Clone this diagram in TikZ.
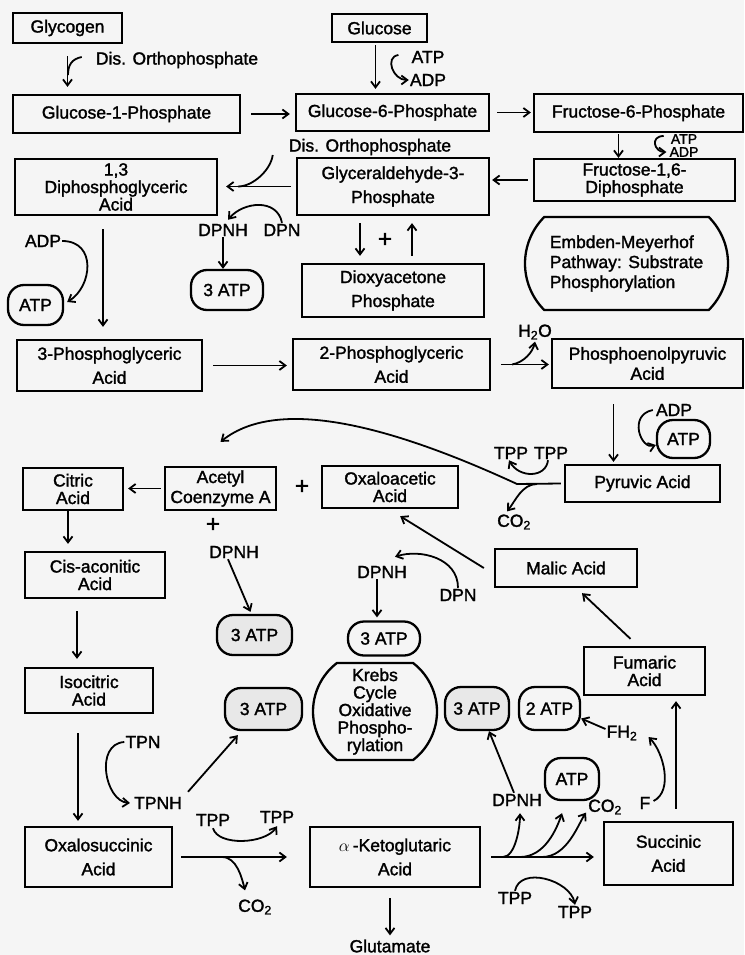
\documentclass[tikz,border=0pt]{standalone}
\usepackage{fontspec}
\setmainfont[FakeBold=1.6]{Liberation Sans}
\usetikzlibrary{shapes.misc, arrows.meta, calc}
\tikzstyle{box} = [draw, line width=2.3pt, inner sep=0pt, align=center]
\tikzstyle{pill} = [draw, line width=2.3pt, rounded corners=16pt, inner sep=0pt, align=center]
\tikzstyle{oval} = [rounded rectangle, draw, line width=2.3pt, inner sep=0pt]
\tikzstyle{stip} = [fill=black!9]
\tikzstyle{lbl} = [inner sep=1pt]
\tikzstyle{small} = [inner sep=1pt, font=\fontsize{14}{14}\selectfont]
\tikzstyle{plus} = [inner sep=1pt, font=\fontsize{24}{24}\selectfont]
\tikzstyle{arrow} = [line width=1.8pt,->,>={Straight Barb[length=6pt,width=9pt]}]
\tikzstyle{line} = [line width=1.8pt]
\tikzstyle{tight} = [font=\fontsize{17.5}{17.5}\selectfont]
\tikzstyle{loose} = [font=\fontsize{17.5}{24}\selectfont]

\begin{document}
\begin{tikzpicture}[x=1pt, y=-1pt, font=\fontsize{17.5}{20}\selectfont]

        \fill[black!4] (0,0) rectangle (744,955);
        \useasboundingbox (0,0) rectangle (744,955);

        % Embden-Meyerhof
        \node at (67.5,28) [box, minimum width=109pt, minimum height=30pt](glycogen) {Glycogen};
        \node at (379.5,28) [box, minimum width=95pt, minimum height=28pt](glucose) {Glucose};
        \node at (126.5,114) [box, minimum width=227pt, minimum height=38pt](gone) {Glucose-1-Phosphate};
        \node at (392.5,112.5) [box, minimum width=193pt, minimum height=37pt](gsix) {Glucose-6-Phosphate};
        \node at (638.5,113) [box, minimum width=209pt, minimum height=38pt](fsix) {Fructose-6-Phosphate};
        \node at (634.5,180) [box, tight, minimum width=201pt, minimum height=42pt](fdi) {Fructose-1,6-\\Diphosphate};
        \node at (393,186.5) [box, loose, minimum width=192pt, minimum height=57pt](gap) {Glyceraldehyde-3-\\Phosphate};
        \node at (116,187) [box, tight, minimum width=202pt, minimum height=56pt](dpg) {1,3\\Diphosphoglyceric\\Acid};
        \node at (393,290.5) [box, loose, minimum width=182pt, minimum height=53pt](dhap) {Dioxyacetone\\Phosphate};
        \node at (626.5,263.5) [oval, rounded rectangle arc length=90, align=left, minimum width=203pt, minimum height=93pt](emp) {Embden-Meyerhof\\Pathway: Substrate\\Phosphorylation};
        \node at (35.5,305) [pill, minimum width=55pt, minimum height=40pt](atpa) {ATP};
        \node at (227,290) [pill, minimum width=72pt, minimum height=40pt](atpb) {3 ATP};
        \node at (109.5,365.5) [box, loose, minimum width=185pt, minimum height=51pt](pgathree) {3-Phosphoglyceric\\Acid};
        \node at (391.5,364.5) [box, loose, minimum width=197pt, minimum height=51pt](pgatwo) {2-Phosphoglyceric\\Acid};
        \node at (647.5,363.5) [box, minimum width=191pt, minimum height=49pt](pep) {Phosphoenolpyruvic\\Acid};
        \node at (683.5,439) [pill, minimum width=53pt, minimum height=38pt](atpc) {ATP};
        \node at (642.5,483.5) [box, minimum width=155pt, minimum height=37pt](pyr) {Pyruvic Acid};

        % Krebs cycle
        \node at (73,489) [box, tight, minimum width=100pt, minimum height=42pt](citric) {Citric\\Acid};
        \node at (220.5,488.5) [box, minimum width=111pt, minimum height=43pt](acetyl) {Acetyl\\Coenzyme A};
        \node at (390,487) [box, tight, minimum width=136pt, minimum height=42pt](oaa) {Oxaloacetic\\Acid};
        \node at (95,575) [box, tight, minimum width=140pt, minimum height=46pt](cis) {Cis-aconitic\\Acid};
        \node at (566,568) [box, minimum width=142pt, minimum height=38pt](malic) {Malic Acid};
        \node at (254.5,635) [pill, stip, minimum width=75pt, minimum height=40pt](atpd) {3 ATP};
        \node at (384,638.5) [pill, minimum width=72pt, minimum height=34pt](atpe) {3 ATP};
        \node at (644.5,671) [box, tight, minimum width=121pt, minimum height=48pt](fum) {Fumaric\\Acid};
        \node at (89,690.5) [box, tight, minimum width=128pt, minimum height=45pt](iso) {Isocitric\\Acid};
        \node at (375,711.5) [oval, tight, rounded rectangle arc length=105, align=center, minimum width=124pt, minimum height=97pt](krebs) {Krebs\\Cycle\\Oxidative\\Phospho-\\rylation};
        \node at (263.5,709) [pill, stip, minimum width=77pt, minimum height=42pt](atpf) {3 ATP};
        \node at (477,708.5) [pill, stip, minimum width=64pt, minimum height=43pt](atpg) {3 ATP};
        \node at (549.5,708.5) [pill, minimum width=61pt, minimum height=43pt](atph) {2 ATP};
        \node at (572,779) [pill, minimum width=54pt, minimum height=42pt](atpi) {ATP};
        \node at (98.5,857) [box, loose, minimum width=147pt, minimum height=60pt](oxs) {Oxalosuccinic\\Acid};
        \node at (395,857) [box, loose, minimum width=170pt, minimum height=60pt](akg) {$\alpha$\,-Ketoglutaric\\Acid};
        \node at (668.5,853.5) [box, loose, minimum width=129pt, minimum height=63pt](succ) {Succinic\\Acid};

        % labels
        \node at (177,60) [lbl](disa) {Dis. Orthophosphate};
        \node at (428,57) [lbl](atpl) {ATP};
        \node at (428,80) [lbl](adpl) {ADP};
        \node at (684,139) [small](atpm) {ATP};
        \node at (684,152) [small](adpm) {ADP};
        \node at (370,147) [lbl](disb) {Dis. Orthophosphate};
        \node at (223,230) [lbl](dpnha) {DPNH};
        \node at (282,230) [lbl](dpna) {DPN};
        \node at (385,240) [plus](plusa) {+};
        \node at (43,241) [lbl](adpa) {ADP};
        \node at (535,332) [lbl](water) {H\textsubscript{2}O};
        \node at (674,410) [lbl](adpb) {ADP};
        \node at (511,453) [lbl](tppa) {TPP};
        \node at (551,453) [lbl](tppb) {TPP};
        \node at (514,522) [lbl](coa) {CO\textsubscript{2}};
        \node at (302,487) [plus](plusb) {+};
        \node at (213,525) [plus](plusc) {+};
        \node at (234,552) [lbl](dpnhb) {DPNH};
        \node at (382,572) [lbl](dpnhc) {DPNH};
        \node at (458,595) [lbl](dpnb) {DPN};
        \node at (143,742) [lbl](tpn) {TPN};
        \node at (158,803) [lbl](tpnh) {TPNH};
        \node at (622,733) [lbl](fhtwo) {FH\textsubscript{2}};
        \node at (645,803) [lbl](fone) {F};
        \node at (517,800) [lbl](dpnhd) {DPNH};
        \node at (605,807) [lbl](cob) {CO\textsubscript{2}};
        \node at (213,820) [lbl](tppc) {TPP};
        \node at (277,817) [lbl](tppd) {TPP};
        \node at (255,907) [lbl](coc) {CO\textsubscript{2}};
        \node at (515,898) [lbl](tppe) {TPP};
        \node at (575,912) [lbl](tppf) {TPP};
        \node at (390,946) [lbl](glut) {Glutamate};

        % branch points
        \coordinate (jg) at (68,75);
        \coordinate (jgap) at (238,186.5);
        \coordinate (jw) at (512,364.5);
        \coordinate (jp) at (517,484);
        \coordinate (jc) at (537,484);
        \coordinate (jo) at (222,857);
        \coordinate (jka) at (503,857);
        \coordinate (jkb) at (520,857);
        \coordinate (jkc) at (542,857);

        % glycolysis arrows
        \draw[arrow] ([yshift=-12pt]glycogen.south) -- ([yshift=7pt]glycogen.south |- gone.north);
        \draw[line] ([xshift=-13pt,yshift=3pt]disa.west) .. controls +(-10,2) and +(0,-10) .. (jg);
        \draw[arrow] ([xshift=-4pt,yshift=-2pt]glucose.south) -- ([xshift=-4pt,yshift=4pt]glucose.south |- gsix.north);
        \draw[arrow] ([xshift=-12pt,yshift=2pt]atpl.west) .. controls +(-14,2) and +(-16,0) .. (adpl.west);
        \draw[arrow] ([xshift=10pt]gone.east) -- ([xshift=-5pt]gsix.west |- gone.east);
        \draw[arrow] ([xshift=7pt]gsix.east) -- ([xshift=-2pt]fsix.west |- gsix.east);
        \draw[arrow] ([xshift=-20pt,yshift=-1pt]fsix.south) -- ([xshift=-20pt]fsix.south |- fdi.north);
        \draw[arrow] ([xshift=-6pt,yshift=3pt]atpm.west) .. controls +(-14,0) and +(-12,0) .. ([xshift=-2pt]adpm.west);
        \draw[arrow] ([xshift=-5pt]fdi.west) -- ([xshift=2pt]gap.east |- fdi.west);
        \draw[arrow] ([xshift=-5pt]gap.west) -- ([xshift=8pt]dpg.east |- gap.west);
        \draw[line] ([xshift=-15pt,yshift=-8pt]disb.west) .. controls +(-2,15) and +(15,0) .. (jgap);
        \draw[arrow] (dpna.north) .. controls +(-5,-25) and +(15,-18) .. ([xshift=5pt,yshift=3pt]dpnha.north);
        \draw[arrow] (dpnha.south) -- (dpnha.south |- atpb.north);
        \draw[arrow] ([xshift=-33pt,yshift=-7pt]gap.south) -- ([xshift=-33pt,yshift=7pt]dhap.north);
        \draw[arrow] ([xshift=19pt,yshift=7pt]dhap.north) -- ([xshift=19pt,yshift=-7pt]gap.south);
        \draw[arrow] (adpa.east) .. controls +(35,0) and +(25,-15) .. ([xshift=3pt,yshift=3pt]atpa.east);
        \draw[arrow, shorten <=13pt, shorten >=12pt] ([xshift=-13pt]dpg.south) -- ([xshift=-13pt]dpg.south |- pgathree.north);
        \draw[arrow] ([xshift=10pt]pgathree.east) -- ([xshift=-5pt]pgatwo.west |- pgathree.east);
        \draw[arrow] ([xshift=10pt]pgatwo.east) -- ([xshift=-2pt]pep.west |- pgatwo.east);
        \draw[arrow] (jw) .. controls +(12,-2) and +(-2,10) .. ([yshift=-1pt]water.south);
        \draw[arrow] ([xshift=-34pt,yshift=-15pt]pep.south) -- ([xshift=-34pt,yshift=2pt]pep.south |- pyr.north);
        \draw[arrow] ([xshift=-2pt]adpb.west) .. controls +(-25,5) and +(-15,5) .. ([yshift=-6pt]atpc.west);

        % pyruvate into the cycle
        \draw[arrow] ([xshift=-3pt]pyr.west) -- (jp) .. controls +(-117,-54) and +(60,-48) .. ([yshift=24pt]acetyl.north);
        \draw[arrow] ([xshift=-3pt]tppb.south) .. controls +(-2,18) and +(10,18) .. ([xshift=-2pt]tppa.south);
        \draw[arrow] (jc) .. controls +(-15,0) and +(8,-10) .. ([xshift=-7pt,yshift=2pt]coa.north);

        % Krebs cycle arrows
        \draw[arrow] ([xshift=-3pt]acetyl.west) -- ([xshift=4pt]citric.east |- acetyl.west);
        \draw[arrow, shorten >=7pt] ([xshift=-5pt]citric.south) -- ([xshift=-5pt]citric.south |- cis.north);
        \draw[arrow, shorten <=12pt, shorten >=8pt] ([xshift=-18pt]cis.south) -- ([xshift=-18pt]cis.south |- iso.north);
        \draw[arrow, shorten <=19pt, shorten >=5pt] ([xshift=-11pt]iso.south) -- ([xshift=-11pt]iso.south |- oxs.north);
        \draw[arrow] (tpn.west) .. controls +(-30,2) and +(-25,-2) .. ([xshift=-3pt]tpnh.west);
        \draw[arrow] ([xshift=5pt,yshift=4pt]tpnh.north east) -- ([xshift=14pt,yshift=-4pt]atpf.south west);
        \draw[arrow] ([xshift=-6pt]dpnhb.south) -- ([xshift=-4pt,yshift=2pt]atpd.north);
        \draw[arrow, shorten >=3pt] ([xshift=-5pt]dpnhc.south) -- ([xshift=-5pt]dpnhc.south |- atpe.north);
        \draw[arrow] (dpnb.north) .. controls +(0,-30) and +(25,-8) .. ([xshift=-13pt,yshift=8pt]dpnhc.north east);
        \draw[arrow] ([xshift=-10pt]malic.west) -- ([xshift=-59pt,yshift=-7pt]oaa.south east);
        \draw[arrow] ([xshift=-14pt,yshift=7pt]fum.north) -- ([xshift=16pt,yshift=-5pt]malic.south);
        \draw[arrow, shorten >=5pt] ([xshift=7.5pt,yshift=12pt]succ.north) -- ([xshift=7.5pt]succ.north |- fum.south);
        \draw[arrow] ([xshift=2pt,yshift=2pt]fone.east) .. controls +(20,-10) and +(15,15) .. ([xshift=10pt,yshift=-4pt]fhtwo.east);
        \draw[arrow] ([yshift=4pt]fhtwo.west) -- ([yshift=-10pt]atph.east);
        \draw[arrow] ([xshift=-3pt]dpnhd.north) -- ([xshift=12pt]atpg.south);
        \draw[arrow] ([xshift=10pt]akg.east) -- ([xshift=-9pt]succ.west |- akg.east);
        \draw[arrow] (jka) .. controls +(12,0) and +(0,15) .. ([xshift=3pt,yshift=-6pt]dpnhd.south);
        \draw[arrow] (jkb) .. controls +(25,0) and +(-5,15) .. ([xshift=-10pt,yshift=-12pt]atpi.south);
        \draw[arrow] (jkc) .. controls +(25,0) and +(-8,12) .. ([xshift=-19pt,yshift=3pt]cob.south);
        \draw[arrow] (tppe.north) .. controls +(5,-25) and +(-5,-25) .. (tppf.north);
        \draw[arrow] ([xshift=-5pt,yshift=-10pt]akg.south) -- ([xshift=-5pt,yshift=3pt]akg.south |- glut.north);
        \draw[arrow] ([xshift=8pt]oxs.east) -- ([xshift=-22pt]akg.west |- oxs.east);
        \draw[arrow] ([yshift=-1pt]tppc.south) .. controls +(5,18) and +(-12,18) .. ([yshift=-2pt]tppd.south);
        \draw[arrow] (jo) .. controls +(15,0) and +(-3,-12) .. ([xshift=-10pt,yshift=8pt]coc.north);

    \end{tikzpicture}
\end{document}
